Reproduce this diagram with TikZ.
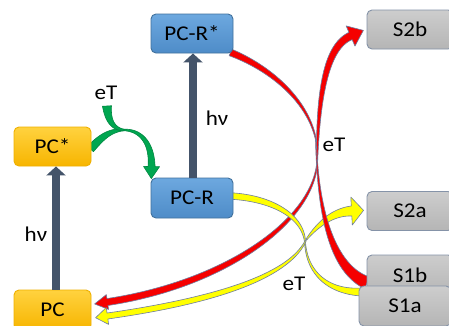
\documentclass[tikz,border=0pt]{standalone}
\usepackage{fontspec}
\setmainfont{Carlito}[FakeStretch=1.1]
\usetikzlibrary{arrows.meta,decorations.markings}
\pgfdeclarelayer{bgfill}
\pgfdeclarelayer{bg}
\pgfsetlayers{bgfill,bg,main}
\definecolor{slate}{HTML}{44546A}
\definecolor{bluetop}{HTML}{6DA8DF}
\definecolor{bluebot}{HTML}{4E8CC8}
\definecolor{blueline}{HTML}{41719C}
\definecolor{goldtop}{HTML}{FFD23F}
\definecolor{goldbot}{HTML}{F7B500}
\definecolor{goldline}{HTML}{EFB000}
\definecolor{graytop}{HTML}{CDCDCD}
\definecolor{graybot}{HTML}{B5B5B5}
\definecolor{grayline}{HTML}{8593A8}
\definecolor{swred}{RGB}{245,0,0}
\definecolor{swyellow}{RGB}{255,255,0}
\definecolor{swgreen}{RGB}{0,166,80}
\definecolor{swedge}{RGB}{110,125,160}
\definecolor{gedge}{RGB}{0,135,65}
\makeatletter
\newcommand\swpt[2]{%
  \pgfpointtransformed{\pgfpoint{#1pt}{#2pt}}%
  \xdef\swxy{(\the\pgf@x,\the\pgf@y)}}
\makeatother
% head at the start of the path, pointing backwards
\newcommand\swstart[2]{\ifdim #1pt>0pt
  \swpt{0}{-#2}\xdef\swR{\swR\swxy -- }%
  \swpt{-#1}{0}\xdef\swR{\swR\swxy -- }%
  \swpt{0}{#2}\xdef\swR{\swR\swxy -- }\fi}
\newcommand\swmark[5]{%
  \ifnum\swfirst=1 \swstart{#4}{#5}\gdef\swfirst{0}\fi
  \pgfmathsetmacro\swt{max(\pgfkeysvalueof{/pgf/decoration/mark info/distance from start}/\pgfdecoratedpathlength,0.0005)}%
  \pgfmathsetmacro\swr{(#1+(#2-#1)*pow(\swt,#3))/2}%
  \swpt{0}{\swr}\xdef\swL{\swL\swxy -- }%
  \swpt{0}{-\swr}\xdef\swR{\swxy -- \swR}}
% #1 w0, #2 w1, #3 taper power, #4 fill, #5 outline, #6 head length, #7 head half width, #8 path
\newcommand\swoosh[8]{%
  \gdef\swL{}\gdef\swR{}\gdef\swfirst{1}%
  \path[decorate,decoration={markings,
    mark=between positions 0 and 1 step 1.2pt with {\swmark{#1}{#2}{#3}{#6}{#7}}}] #8;
  \edef\swcmd{\noexpand\filldraw[fill=#4,draw=#5,line width=0.6pt,line join=round] \swL\swR cycle;}%
  \swcmd}
\begin{document}
\begin{tikzpicture}[x=1pt,y=-1pt,
  box/.style={rectangle, rounded corners=5pt, inner sep=0pt, line width=0.9pt,
    font=\fontsize{21}{25}\selectfont},
  bluebox/.style={box, draw=blueline, top color=bluetop, bottom color=bluebot},
  goldbox/.style={box, draw=goldline, top color=goldtop, bottom color=goldbot},
  graybox/.style={box, draw=grayline, top color=graytop, bottom color=graybot},
  lbl/.style={inner sep=0pt, font=\fontsize{21}{25}\selectfont},
  hvarrow/.style={draw=slate, line width=8pt, -{Triangle[width=19pt,length=9pt]}}]
\path[use as bounding box] (0,0) rectangle (449,325);
\clip (0,0) rectangle (449,325);
\begin{pgfonlayer}{bgfill}
\fill[white] (0,0) rectangle (449,325);
\end{pgfonlayer}

% boxes
\node[bluebox, minimum width=82pt, minimum height=39pt] (pcrs) at (192,33.5) {PC-R*};
\node[goldbox, minimum width=77pt, minimum height=39pt] (pcs) at (52.5,146.5) {PC*};
\node[bluebox, minimum width=82pt, minimum height=40pt] (pcr) at (192,198) {PC-R};
\node[goldbox, minimum width=77pt, minimum height=40pt] (pc) at (52.5,310) {PC};
\node[graybox, minimum width=86pt, minimum height=39pt] (s2b) at (410,29.5) {S2b};
\node[graybox, minimum width=86pt, minimum height=39pt] (s2a) at (410,211) {S2a};
\node[graybox, minimum width=86pt, minimum height=40pt] (s1b) at (410,275) {S1b};
\node[graybox, minimum width=92pt, minimum height=40pt] (s1a) at (405,306) {S1a};

% labels
\node[lbl] (et1) at (106,93) {eT};
\node[lbl] (et2) at (334,145) {eT};
\node[lbl] (et3) at (294,284) {eT};
\node[lbl] (hv1) at (36,234) {hν};
\node[lbl] (hv2) at (217,118) {hν};

% junction points
\coordinate (jg) at (124,130);
\coordinate (gs) at (107,106);
\coordinate (j1) at (316,140);
\coordinate (j1b) at (317,165);
\coordinate (j2) at (305,242);
\coordinate (j2b) at (306,240);

% excitation arrows
\draw[hvarrow] ([xshift=3.5pt]pc.north) -- ([xshift=3.5pt]pcs.south);
\draw[hvarrow] ([xshift=1pt]pcr.north) -- ([xshift=1pt]pcrs.south);

\begin{pgfonlayer}{bg}
% green
\swoosh{8}{1.5}{1.5}{swgreen}{gedge}{0}{0}{([xshift=-1pt,yshift=-2.5pt]pcs.east) .. controls (103,135) and (112,130) .. (jg)}
\swoosh{9}{1.5}{1}{swgreen}{gedge}{0}{0}{(gs) .. controls (108,122) and (114,129) .. (jg)}
\swoosh{7}{1.5}{1}{swgreen}{gedge}{12}{8}{([xshift=1pt,yshift=11pt]pcr.north west) .. controls (152,142) and (140,130) .. (jg)}
% red B
\swoosh{7}{1}{2}{swred}{swedge}{13}{7.5}{([xshift=16pt,yshift=8pt]pc.east) .. controls (220,285) and (310,225) .. (j1b)}
\swoosh{8}{1}{1}{swred}{swedge}{14}{11}{([xshift=-16pt,yshift=-6.5pt]s2b.west) .. controls (330,45) and (318,80) .. (j1b)}
% yellow C
\swoosh{6.5}{1}{2}{swyellow}{swedge}{0}{0}{([xshift=-3pt,yshift=2pt]pcr.east) .. controls (270,198) and (303,215) .. (j2)}
\swoosh{1}{8}{1.5}{swyellow}{swedge}{0}{0}{(j2) .. controls (307,275) and (330,292) .. ([xshift=3pt,yshift=14pt]s1a.west)}
% yellow D
\swoosh{6}{1}{3}{swyellow}{swedge}{12}{8.5}{([xshift=16pt,yshift=-6pt]pc.east) .. controls (220,300) and (290,275) .. (j2b)}
\swoosh{10}{1}{1}{swyellow}{swedge}{12}{14}{([xshift=-15pt]s2a.west) .. controls (333,212) and (318,224) .. (j2b)}
% red A
\swoosh{7}{1}{1}{swred}{swedge}{0}{0}{([xshift=-3pt,yshift=1pt]pcrs.south east) .. controls (270,68) and (308,100) .. (j1)}
\swoosh{1}{13}{2}{swred}{swedge}{0}{0}{(j1) .. controls (318,220) and (335,270) .. ([xshift=1pt,yshift=-8pt]s1b.west)}
\end{pgfonlayer}
\end{tikzpicture}
\end{document}
